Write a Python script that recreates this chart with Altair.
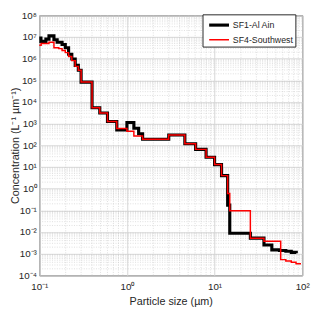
import altair as alt
import pandas as pd

# ---- data ----
series_names = ["SF1-Al Ain", "SF4-Southwest"]

# bin edges (µm) and concentrations (L^-1 µm^-1), step-after; last value repeated at end edge
sf1_size = [0.1, 0.1044, 0.119, 0.129, 0.147, 0.160, 0.182, 0.198, 0.216, 0.235, 0.257, 0.279,
            0.30, 0.40, 0.49, 0.60, 0.766, 1.0, 1.2, 1.36, 1.51, 3.0, 4.58, 6.08, 8.0, 10.0, 12.0,
            14.1, 14.9, 25.6, 36.6, 45.0, 55.0, 65.0, 75.0, 85.5]
sf1_conc = [8.9e6, 6.3e6, 8.0e6, 1.13e7, 7.5e6, 5.7e6, 4.5e6, 3.2e6, 1.6e6, 9.7e5, 4.9e5, 2.9e5,
            8.3e4, 5.4e3, 3.1e3, 1.25e3, 5.1e2, 1.13e3, 6.1e2, 3.4e2, 1.9e2, 3.0e2, 1.19e2, 65, 28, 12.9, 4.0,
            0.175, 8.8e-3, 5.2e-3, 2.5e-3, 1.5e-3, 1.4e-3, 1.3e-3, 1.15e-3, 1.05e-3]

sf4_size = [0.1, 0.105, 0.129, 0.147, 0.167, 0.182, 0.198, 0.216, 0.235, 0.257, 0.279,
            0.30, 0.40, 0.49, 0.60, 0.766, 1.0, 1.2, 1.51, 3.0, 4.58, 6.08, 8.0, 10.0, 12.0,
            14.1, 14.9, 25.6, 36.6, 56.8, 65.0, 75.0, 85.0, 95.0]
sf4_conc = [4.2e6, 5.0e6, 5.7e6, 3.2e6, 2.9e6, 2.4e6, 1.9e6, 1.26e6, 8.1e5, 4.4e5, 2.9e5,
            8.3e4, 5.4e3, 3.1e3, 1.25e3, 6.0e2, 4.5e2, 2.7e2, 1.9e2, 3.0e2, 1.19e2, 65, 28, 12.9, 4.0,
            0.6, 0.095, 5.2e-3, 3.7e-3, 5.3e-4, 4.6e-4, 4.0e-4, 3.4e-4, 3.2e-4]

x_ticks = [0.1, 1, 10, 100]
y_ticks = [1e-4, 1e-3, 1e-2, 1e-1, 1, 1e1, 1e2, 1e3, 1e4, 1e5, 1e6, 1e7, 1e8]

# ---- build tables ----
df1 = pd.DataFrame({"size": sf1_size, "conc": sf1_conc, "series": series_names[0]})
df4 = pd.DataFrame({"size": sf4_size, "conc": sf4_conc, "series": series_names[1]})

x_minor = [m * 10.0 ** k for k in (-1, 0, 1) for m in range(2, 10)]
y_minor = [m * 10.0 ** k for k in range(-4, 8) for m in range(2, 10)]

FONT = "Liberation Sans"
TXT = "#262626"
xscale = alt.Scale(type="log", domain=[0.1, 100], nice=False)
yscale = alt.Scale(type="log", domain=[1e-4, 1e8], nice=False)

sup = "['⁻⁴','⁻³','⁻²','⁻¹','⁰','¹','²','³','⁴','⁵','⁶','⁷','⁸']"
label_expr = "'10' + " + sup + "[round(log(datum.value)/LN10) + 4]"

x_axis = alt.Axis(values=x_ticks, labelExpr=label_expr, title="Particle size (µm)",
                  grid=True, gridColor="#d6d6d6", ticks=False, domain=False,
                  labelFont=FONT, labelFontSize=10, labelColor=TXT,
                  titleFont=FONT, titleFontSize=11, titleFontWeight="normal",
                  titleColor=TXT, labelPadding=6, titlePadding=5, labelFlush=False)
y_axis = alt.Axis(values=y_ticks, labelExpr=label_expr, title="Concentration (L⁻¹ µm⁻¹)",
                  grid=True, gridColor="#d6d6d6", ticks=False, domain=False,
                  labelFont=FONT, labelFontSize=10, labelColor=TXT,
                  titleFont=FONT, titleFontSize=11, titleFontWeight="normal",
                  titleColor=TXT, labelPadding=3, titlePadding=-2, labelFlush=False)

grid_minor_x = alt.Chart(pd.DataFrame({"v": x_minor})).mark_rule(
    stroke="#c8c8c8", strokeWidth=0.6, strokeDash=[1, 1.5]
).encode(x=alt.X("v:Q", scale=xscale, axis=x_axis))
grid_minor_y = alt.Chart(pd.DataFrame({"v": y_minor})).mark_rule(
    stroke="#c8c8c8", strokeWidth=0.6, strokeDash=[1, 1.5]
).encode(y=alt.Y("v:Q", scale=yscale, axis=y_axis))

color_scale = alt.Scale(domain=series_names, range=["#000000", "#ff0000"])
width_scale = alt.Scale(domain=series_names, range=[3.2, 1.5])
legend = alt.Legend(
    title=None, orient="none", legendX=167, legendY=-1,
    symbolType="M-0.6,0H2.3", symbolSize=196,
    labelFont=FONT, labelFontSize=9, labelColor=TXT,
    fillColor="white", strokeColor=TXT, padding=2, rowPadding=0,
    labelOffset=11,
)

def line_layer(df):
    return alt.Chart(df).mark_line(interpolate="step-after").encode(
        x=alt.X("size:Q", scale=xscale, axis=x_axis),
        y=alt.Y("conc:Q", scale=yscale, axis=y_axis),
        color=alt.Color("series:N", scale=color_scale, legend=legend),
        strokeWidth=alt.StrokeWidth("series:N", scale=width_scale, legend=legend),
    )

chart = alt.layer(grid_minor_x, grid_minor_y, line_layer(df1), line_layer(df4)).properties(
    width=269, height=266,
    autosize=alt.AutoSizeParams(type="none"),
    padding={"left": 32, "top": 4, "right": 10, "bottom": 33},
).configure_view(stroke=TXT, strokeWidth=1)

chart.save("out.html", embed_options={"renderer": "svg", "actions": False})
